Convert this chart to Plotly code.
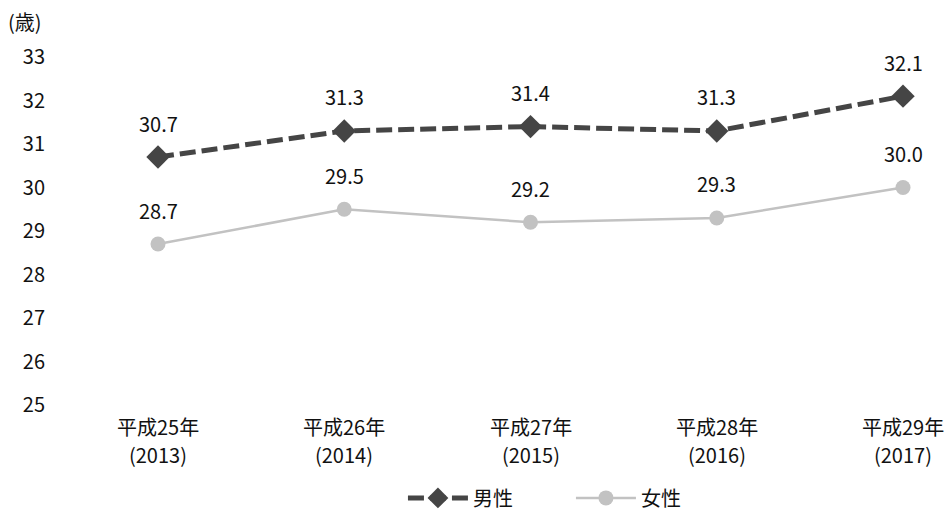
import plotly.graph_objects as go

year_names = ['平成25年', '平成26年', '平成27年', '平成28年', '平成29年']
year_nums = ['(2013)', '(2014)', '(2015)', '(2016)', '(2017)']
male = [30.7, 31.3, 31.4, 31.3, 32.1]
female = [28.7, 29.5, 29.2, 29.3, 30.0]
y_ticks = [25, 26, 27, 28, 29, 30, 31, 32, 33]

FONT = 'Noto Sans CJK JP'
xs = list(range(len(year_names)))

fig = go.Figure()

fig.add_trace(go.Scatter(
    x=xs, y=male, name='男性',
    mode='lines+markers',
    line=dict(color='#454545', width=5, dash='16px,6px'),
    marker=dict(symbol='diamond', size=18, color='#454545'),
    cliponaxis=False
))

fig.add_trace(go.Scatter(
    x=xs, y=female, name='女性',
    mode='lines+markers',
    line=dict(color='#c2c2c2', width=2.5),
    marker=dict(symbol='circle', size=15, color='#c2c2c2'),
    cliponaxis=False
))

annots = []
# data labels above each point
for series in (male, female):
    for i, v in enumerate(series):
        annots.append(dict(x=i, y=v, xref='x', yref='y', text=f'{v:.1f}',
                           showarrow=False, yshift=34, yanchor='middle',
                           font=dict(size=20, color='#111111')))
# two-line category labels
for i in xs:
    annots.append(dict(x=i, y=0, xref='x', yref='paper', text=year_names[i],
                       showarrow=False, yshift=-21, yanchor='middle',
                       font=dict(size=20, color='#111111')))
    annots.append(dict(x=i, y=0, xref='x', yref='paper', text=year_nums[i],
                       showarrow=False, yshift=-49, yanchor='middle',
                       font=dict(size=20, color='#111111')))
annots.append(dict(text='(歳)', x=0, y=1, xref='paper', yref='paper',
                   xanchor='center', yanchor='middle', xshift=-40, yshift=36,
                   showarrow=False, font=dict(size=20, color='#111111')))

# page body has an 8px margin, so the figure is sized/offset to compensate
fig.update_layout(
    width=944, height=510,
    margin=dict(l=57, r=0, t=49, b=113),
    paper_bgcolor='white', plot_bgcolor='white',
    font=dict(family=FONT, size=20, color='#111111'),
    showlegend=True,
    legend=dict(orientation='h', x=0.381, xanchor='left', y=-0.267, yanchor='middle',
                font=dict(size=20), itemwidth=60,
                entrywidth=93, entrywidthmode='pixels'),
    annotations=annots
)

fig.update_xaxes(
    range=[-0.4993, 4.263], tickvals=xs, showticklabels=False,
    showgrid=False, zeroline=False, showline=False, ticks='', automargin=False
)
fig.update_yaxes(
    range=[25, 33], tickvals=y_ticks,
    showgrid=False, zeroline=False, showline=False, ticks='', automargin=False,
    ticklabelstandoff=19, tickfont=dict(size=20)
)

fig.write_html("out.html")
